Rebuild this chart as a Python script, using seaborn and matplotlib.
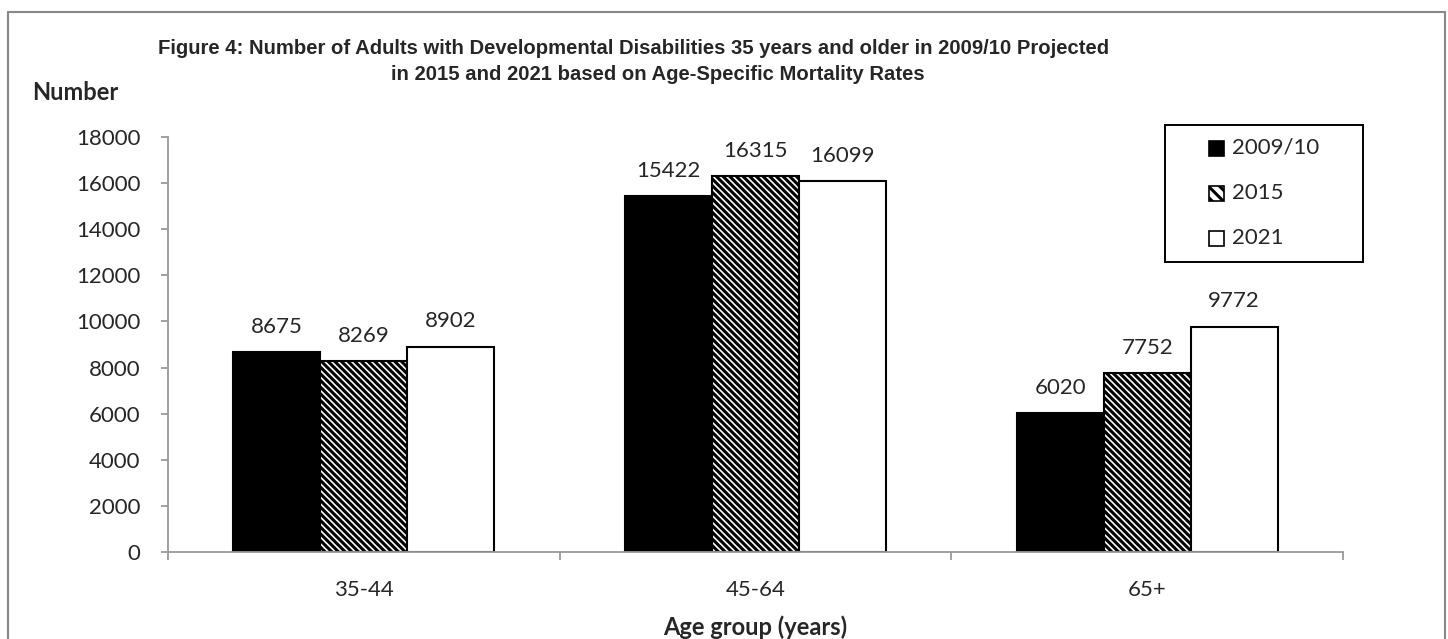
import matplotlib
matplotlib.use("Agg")
import matplotlib.pyplot as plt
import seaborn as sns
import pandas as pd
from matplotlib.patches import Rectangle
from matplotlib.lines import Line2D

categories = ["35-44", "45-64", "65+"]
series = ["2009/10", "2015", "2021"]
v2009 = [8675, 15422, 6020]
v2015 = [8269, 16315, 7752]
v2021 = [8902, 16099, 9772]
yticks = [0, 2000, 4000, 6000, 8000, 10000, 12000, 14000, 16000, 18000]

rows = []
for s, vals in zip(series, [v2009, v2015, v2021]):
    for c, v in zip(categories, vals):
        rows.append({"Age": c, "Year": s, "Number": v})
df = pd.DataFrame(rows)

sns.set_theme(style="white")
plt.rcParams["font.family"] = ["Lato", "DejaVu Sans"]
plt.rcParams["hatch.linewidth"] = 2.2

W, H = 1448, 639
fig = plt.figure(figsize=(W / 100, H / 100), dpi=100)
ax = fig.add_axes([168 / W, 1 - 552 / H, (1343 - 168) / W, (552 - 137) / H])

HATCH = "\\" * 5
sns.barplot(data=df, x="Age", y="Number", hue="Year", order=categories,
            hue_order=series, width=0.666, ax=ax, errorbar=None,
            palette=["black", "white", "white"], saturation=1, legend=False)

styles = [dict(fc="black", hatch=None), dict(fc="white", hatch=HATCH), dict(fc="white", hatch=None)]
for cont, st in zip(ax.containers, styles):
    for p in cont:
        p.set_facecolor(st["fc"])
        p.set_edgecolor("black")
        p.set_linewidth(1.5)
        if st["hatch"]:
            p.set_hatch(st["hatch"])
    ax.bar_label(cont, labels=[f"{int(v.get_height())}" for v in cont], padding=11, fontsize=16)

ax.set_ylim(0, 18000)
ax.set_xlim(-0.5, 2.5)
ax.set_yticks(yticks)
ax.set_yticklabels([str(t) for t in yticks], fontsize=16)
ax.tick_params(axis="y", which="both", left=True, length=5, color="#999999", width=1.3, pad=15)
ax.set_xticks([0, 1, 2])
ax.set_xticklabels(categories, fontsize=16)
ax.tick_params(axis="x", which="major", bottom=True, length=0, pad=20)
ax.set_xticks([-0.5, 0.5, 1.5, 2.5], minor=True)
ax.tick_params(axis="x", which="minor", bottom=True, length=6, color="#999999", width=1.3, direction="out")

for s in ["top", "right"]:
    ax.spines[s].set_visible(False)
for s in ["left", "bottom"]:
    ax.spines[s].set_color("#999999")
    ax.spines[s].set_linewidth(1.3)

ax.set_xlabel("")
ax.set_ylabel("")

fig.text(755 / W, 1 - 627 / H, "Age group (years)", ha="center", va="center", fontsize=17, fontweight="bold")
fig.text(32 / W, 1 - 92 / H, "Number", ha="left", va="center", fontsize=17, fontweight="bold")
fig.text(634 / W, 1 - 48 / H, "Figure 4: Number of Adults with Developmental Disabilities 35 years and older in 2009/10 Projected",
         ha="center", va="center", fontsize=14.6, fontweight="bold", family="Liberation Sans")
fig.text(658 / W, 1 - 75 / H, "in 2015 and 2021 based on Age-Specific Mortality Rates",
         ha="center", va="center", fontsize=14.6, fontweight="bold", family="Liberation Sans")

# legend (manual, placed as in the reference)
fig.add_artist(Rectangle((1165 / W, 1 - 262 / H), (1363 - 1165) / W, (262 - 125) / H,
                         transform=fig.transFigure, fill=False, ec="black", lw=1.4))
leg_fc = ["black", "white", "white"]
leg_hatch = [None, "\\" * 3, None]
for i, (lab, fc, ht) in enumerate(zip(series, leg_fc, leg_hatch)):
    yc = 148 + 45 * i
    r = Rectangle((1209 / W, 1 - (yc + 7.5) / H), 15 / W, 15 / H, transform=fig.transFigure,
                  fc=fc, ec="black", lw=1.2, hatch=ht)
    fig.add_artist(r)
    fig.text(1232 / W, 1 - yc / H, lab, ha="left", va="center", fontsize=16)

# outer border (left, top, right)
for xs, ys in [([8, 8], [639, 12]), ([8, 1445], [12, 12]), ([1445, 1445], [12, 639])]:
    fig.add_artist(Line2D([x / W for x in xs], [1 - y / H for y in ys], transform=fig.transFigure,
                          color="#888888", lw=1.5))

fig.savefig("out.png", dpi=100)
